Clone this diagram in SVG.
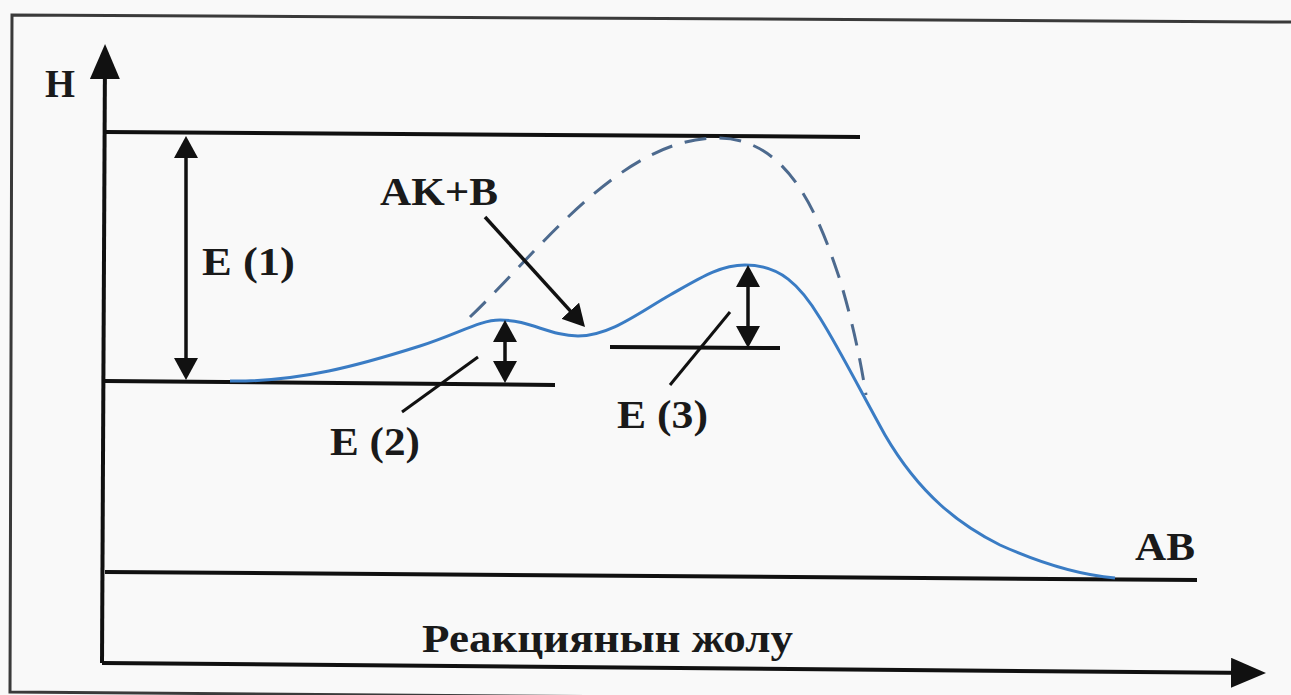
<svg xmlns="http://www.w3.org/2000/svg" width="1291" height="695" viewBox="0 0 1291 695">
<defs>
<style>
.ln{stroke:#111;stroke-width:4;fill:none;stroke-linecap:butt}
.ar{stroke:#111;stroke-width:3.5;fill:none}
.sl{stroke:#111;stroke-width:3;fill:none}
.t{font-family:"Liberation Serif","DejaVu Serif",serif;font-weight:bold;font-size:40px;fill:#1a1a1a}
</style>
<marker id="ah" markerUnits="userSpaceOnUse" markerWidth="24" markerHeight="24" refX="14" refY="12" orient="auto-start-reverse" viewBox="0 0 24 24">
<path d="M0,0 L22,12 L0,24 z" fill="#111"/>
</marker>
<marker id="ax" markerUnits="userSpaceOnUse" markerWidth="36" markerHeight="30" refX="26" refY="15" orient="auto" viewBox="0 0 36 30">
<path d="M0,0 L35,15 L0,30 z" fill="#111"/>
</marker>
</defs>
<rect width="1291" height="695" fill="#f9f9f9"/>
<path d="M1291,22 L12,15 L10,692 L1291,702" fill="none" stroke="#3a3a3a" stroke-width="3"/>

<g id="axes">
<line class="ln" x1="102" y1="663" x2="105" y2="53" marker-end="url(#ax)"/>
<line class="ln" x1="102" y1="663" x2="1257" y2="673" marker-end="url(#ax)"/>
</g>

<g id="levels">
<line class="ln" x1="105" y1="132" x2="860" y2="137"/>
<line class="ln" x1="105" y1="381" x2="555" y2="385"/>
<line class="ln" x1="610" y1="347" x2="780" y2="348"/>
<line class="ln" x1="105" y1="572" x2="1197" y2="580"/>
</g>

<g id="curves">
<path d="M470,317 C540,250 620,140 715,138 C790,136 820,220 840,280 C855,330 862,370 866,395" fill="none" stroke="#4d6a8e" stroke-width="3" stroke-dasharray="22 13"/>
<path d="M230,381 C300,382 360,365 420,346 C460,333 480,320 500,320 C530,320 550,336 578,336 C610,336 640,312 670,295 C700,278 720,265 745,265 C780,265 800,285 820,318 C840,350 860,390 885,435 C920,495 960,525 1000,545 C1040,563 1080,575 1115,578" fill="none" stroke="#3a7cc4" stroke-width="3"/>
</g>

<g id="connectors">
<line class="ar" x1="186" y1="144" x2="186" y2="372" marker-start="url(#ah)" marker-end="url(#ah)"/>
<line class="ar" x1="505" y1="328" x2="505" y2="375" marker-start="url(#ah)" marker-end="url(#ah)"/>
<line class="ar" x1="748" y1="273" x2="748" y2="340" marker-start="url(#ah)" marker-end="url(#ah)"/>
<line class="ar" x1="485" y1="217" x2="579.6" y2="321.1" marker-end="url(#ah)"/>
<line class="sl" x1="402" y1="412" x2="478" y2="357"/>
<line class="sl" x1="670" y1="385" x2="730" y2="312"/>
</g>

<g id="label-H"><text class="t" x="45" y="97" textLength="30" lengthAdjust="spacingAndGlyphs">H</text></g>
<g id="label-E1"><text class="t" x="202" y="275" textLength="93" lengthAdjust="spacingAndGlyphs">E (1)</text></g>
<g id="label-AKB"><text class="t" x="380" y="205" textLength="118" lengthAdjust="spacingAndGlyphs">AK+B</text></g>
<g id="label-E2"><text class="t" x="330" y="455" textLength="90" lengthAdjust="spacingAndGlyphs">E (2)</text></g>
<g id="label-E3"><text class="t" x="617" y="428" textLength="91" lengthAdjust="spacingAndGlyphs">E (3)</text></g>
<g id="label-AB"><text class="t" x="1135" y="560" textLength="60" lengthAdjust="spacingAndGlyphs">AB</text></g>
<g id="label-axis"><text class="t" x="422" y="652" textLength="371" lengthAdjust="spacingAndGlyphs">Реакциянын жолу</text></g>
</svg>
